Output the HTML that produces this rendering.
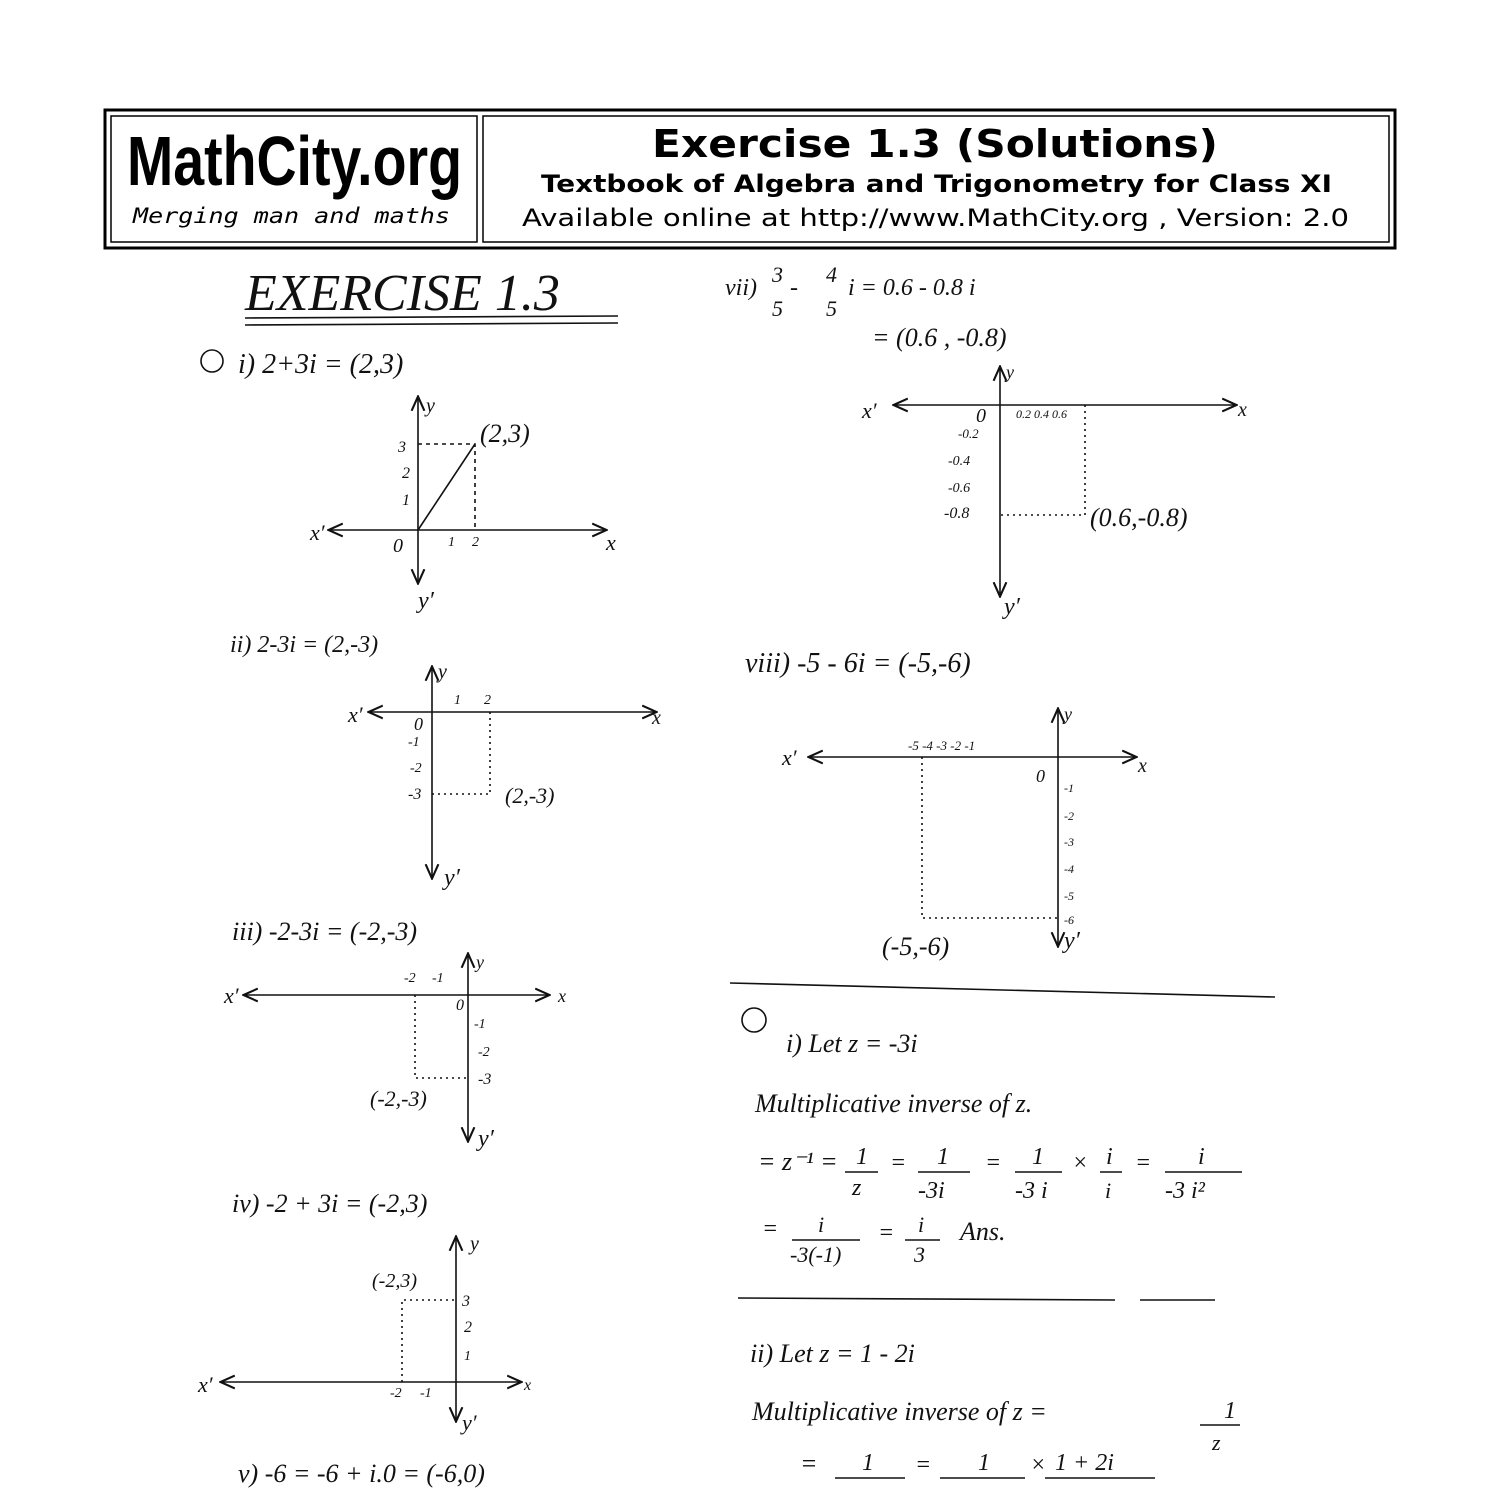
<!DOCTYPE html>
<html><head><meta charset="utf-8"><style>
html,body{margin:0;padding:0;background:#fff;}
svg{display:block}
.h{font-family:"Liberation Serif",serif;font-style:italic;fill:#111}
</style></head><body>
<svg width="1500" height="1500" viewBox="0 0 1500 1500" xmlns="http://www.w3.org/2000/svg">
<defs><marker id="a" markerWidth="10" markerHeight="10" refX="8" refY="5" orient="auto"><path d="M0,1 L9,5 L0,9" fill="none" stroke="#111" stroke-width="1.3"/></marker></defs>
<!-- header -->
<rect x="105" y="110" width="1290" height="138" fill="none" stroke="#000" stroke-width="3"/>
<rect x="111" y="116" width="366" height="126" fill="none" stroke="#000" stroke-width="1.5"/>
<rect x="483" y="116" width="906" height="126" fill="none" stroke="#000" stroke-width="1.5"/>
<text x="127" y="185" font-family="Liberation Sans Narrow,Liberation Sans,sans-serif" font-weight="bold" font-size="70" textLength="335" lengthAdjust="spacingAndGlyphs">MathCity.org</text>
<text x="133" y="223" font-family="DejaVu Sans Mono,Liberation Mono,monospace" font-style="italic" font-size="21" textLength="317" lengthAdjust="spacingAndGlyphs">Merging man and maths</text>
<text x="652" y="157" font-family="DejaVu Sans,sans-serif" font-weight="bold" font-size="38" textLength="566" lengthAdjust="spacingAndGlyphs">Exercise 1.3 (Solutions)</text>
<text x="541" y="192" font-family="DejaVu Sans,sans-serif" font-weight="bold" font-size="24" textLength="791" lengthAdjust="spacingAndGlyphs">Textbook of Algebra and Trigonometry for Class XI</text>
<text x="522" y="226" font-family="DejaVu Sans,sans-serif" font-size="24" textLength="827" lengthAdjust="spacingAndGlyphs">Available online at http://www.MathCity.org ,  Version: 2.0</text>
<g stroke="#111" stroke-width="1.6" fill="none">
<line x1="245" y1="318" x2="618" y2="316"/><line x1="245" y1="325" x2="618" y2="323"/>
<line x1="418" y1="530" x2="330" y2="530" marker-end="url(#a)"/><line x1="418" y1="530" x2="605" y2="530" marker-end="url(#a)"/>
<line x1="418" y1="530" x2="418" y2="398" marker-end="url(#a)"/><line x1="418" y1="530" x2="418" y2="582" marker-end="url(#a)"/>
<path d="M418,444 H475 V530" stroke-dasharray="4,4"/><line x1="418" y1="530" x2="475" y2="444"/>
<line x1="432" y1="712" x2="370" y2="712" marker-end="url(#a)"/><line x1="432" y1="712" x2="655" y2="712" marker-end="url(#a)"/>
<line x1="432" y1="712" x2="432" y2="668" marker-end="url(#a)"/><line x1="432" y1="712" x2="432" y2="877" marker-end="url(#a)"/>
<path d="M490,712 V794 H432" stroke-dasharray="2,4"/>
<line x1="468" y1="995" x2="245" y2="995" marker-end="url(#a)"/><line x1="468" y1="995" x2="548" y2="995" marker-end="url(#a)"/>
<line x1="468" y1="995" x2="468" y2="955" marker-end="url(#a)"/><line x1="468" y1="995" x2="468" y2="1140" marker-end="url(#a)"/>
<path d="M415,995 V1078 H468" stroke-dasharray="2,4"/>
<line x1="456" y1="1382" x2="222" y2="1382" marker-end="url(#a)"/><line x1="456" y1="1382" x2="520" y2="1382" marker-end="url(#a)"/>
<line x1="456" y1="1382" x2="456" y2="1238" marker-end="url(#a)"/><line x1="456" y1="1382" x2="456" y2="1420" marker-end="url(#a)"/>
<path d="M402,1382 V1300 H456" stroke-dasharray="2,4"/>
<line x1="1000" y1="405" x2="895" y2="405" marker-end="url(#a)"/><line x1="1000" y1="405" x2="1235" y2="405" marker-end="url(#a)"/>
<line x1="1000" y1="405" x2="1000" y2="368" marker-end="url(#a)"/><line x1="1000" y1="405" x2="1000" y2="595" marker-end="url(#a)"/>
<path d="M1085,405 V515 H1000" stroke-dasharray="2,4"/>
<line x1="1058" y1="757" x2="810" y2="757" marker-end="url(#a)"/><line x1="1058" y1="757" x2="1135" y2="757" marker-end="url(#a)"/>
<line x1="1058" y1="757" x2="1058" y2="710" marker-end="url(#a)"/><line x1="1058" y1="757" x2="1058" y2="945" marker-end="url(#a)"/>
<path d="M922,757 V918 H1058" stroke-dasharray="2,4"/>
<line x1="730" y1="983" x2="1275" y2="997"/>
<line x1="738" y1="1298" x2="1115" y2="1300"/><line x1="1140" y1="1300" x2="1215" y2="1300"/>
<line x1="845" y1="1172" x2="878" y2="1172"/><line x1="918" y1="1172" x2="970" y2="1172"/><line x1="1015" y1="1172" x2="1062" y2="1172"/><line x1="1100" y1="1172" x2="1122" y2="1172"/><line x1="1165" y1="1172" x2="1242" y2="1172"/>
<line x1="792" y1="1240" x2="860" y2="1240"/><line x1="905" y1="1240" x2="940" y2="1240"/>
<line x1="835" y1="1478" x2="905" y2="1478"/><line x1="940" y1="1478" x2="1025" y2="1478"/><line x1="1045" y1="1478" x2="1155" y2="1478"/><line x1="1200" y1="1425" x2="1240" y2="1425"/>
<circle cx="212" cy="361" r="11"/><circle cx="754" cy="1020" r="12"/>
</g>
<g class="h">
<text x="245" y="310" font-size="52">EXERCISE 1.3</text>
<text x="238" y="373" font-size="28">i)   2+3i = (2,3)</text>
<text x="426" y="412" font-size="20">y</text><text x="398" y="452" font-size="16">3</text><text x="402" y="478" font-size="16">2</text><text x="402" y="505" font-size="16">1</text>
<text x="480" y="442" font-size="26">(2,3)</text><text x="310" y="540" font-size="22">x′</text><text x="393" y="552" font-size="20">0</text><text x="448" y="546" font-size="14">1</text><text x="472" y="546" font-size="14">2</text><text x="606" y="550" font-size="22">x</text><text x="418" y="608" font-size="24">y′</text>
<text x="230" y="652" font-size="24">ii)  2-3i = (2,-3)</text>
<text x="438" y="678" font-size="20">y</text><text x="348" y="722" font-size="22">x′</text><text x="454" y="704" font-size="14">1</text><text x="484" y="704" font-size="14">2</text><text x="414" y="730" font-size="18">0</text><text x="408" y="746" font-size="14">-1</text><text x="410" y="772" font-size="14">-2</text><text x="408" y="799" font-size="16">-3</text><text x="652" y="724" font-size="20">x</text>
<text x="505" y="803" font-size="22">(2,-3)</text><text x="444" y="885" font-size="24">y′</text>
<text x="232" y="940" font-size="26">iii) -2-3i = (-2,-3)</text>
<text x="476" y="968" font-size="18">y</text><text x="224" y="1003" font-size="22">x′</text><text x="404" y="982" font-size="14">-2</text><text x="432" y="982" font-size="14">-1</text><text x="456" y="1010" font-size="16">0</text><text x="558" y="1002" font-size="18">x</text>
<text x="474" y="1028" font-size="14">-1</text><text x="478" y="1056" font-size="14">-2</text><text x="478" y="1084" font-size="16">-3</text><text x="370" y="1106" font-size="22">(-2,-3)</text><text x="478" y="1146" font-size="24">y′</text>
<text x="232" y="1212" font-size="26">iv) -2 + 3i = (-2,3)</text>
<text x="470" y="1250" font-size="20">y</text><text x="372" y="1287" font-size="20">(-2,3)</text><text x="462" y="1306" font-size="16">3</text><text x="464" y="1332" font-size="16">2</text><text x="464" y="1360" font-size="14">1</text>
<text x="198" y="1392" font-size="22">x′</text><text x="390" y="1397" font-size="14">-2</text><text x="420" y="1397" font-size="14">-1</text><text x="524" y="1390" font-size="16">x</text><text x="462" y="1430" font-size="22">y′</text>
<text x="238" y="1482" font-size="26">v) -6 = -6 + i.0 = (-6,0)</text>
<text x="725" y="295" font-size="24">vii)</text><text x="772" y="282" font-size="22">3</text><text x="772" y="316" font-size="22">5</text><text x="790" y="295" font-size="24">-</text><text x="826" y="282" font-size="22">4</text><text x="826" y="316" font-size="22">5</text><text x="848" y="295" font-size="24">i =  0.6 - 0.8 i</text>
<text x="872" y="346" font-size="26">= (0.6 , -0.8)</text>
<text x="1006" y="378" font-size="18">y</text><text x="862" y="418" font-size="22">x′</text><text x="976" y="422" font-size="20">0</text><text x="1016" y="418" font-size="12">0.2 0.4 0.6</text><text x="1238" y="416" font-size="20">x</text>
<text x="958" y="438" font-size="13">-0.2</text><text x="948" y="465" font-size="14">-0.4</text><text x="948" y="492" font-size="14">-0.6</text><text x="944" y="518" font-size="16">-0.8</text>
<text x="1090" y="526" font-size="26">(0.6,-0.8)</text><text x="1004" y="614" font-size="24">y′</text>
<text x="745" y="672" font-size="28">viii)  -5 - 6i = (-5,-6)</text>
<text x="1064" y="720" font-size="18">y</text><text x="782" y="765" font-size="22">x′</text><text x="908" y="750" font-size="13">-5 -4 -3 -2 -1</text><text x="1036" y="782" font-size="18">0</text><text x="1138" y="772" font-size="20">x</text>
<text x="1064" y="792" font-size="12">-1</text><text x="1064" y="820" font-size="12">-2</text><text x="1064" y="846" font-size="12">-3</text><text x="1064" y="873" font-size="12">-4</text><text x="1064" y="900" font-size="12">-5</text><text x="1064" y="924" font-size="12">-6</text>
<text x="882" y="955" font-size="26">(-5,-6)</text><text x="1064" y="948" font-size="24">y′</text>
<text x="786" y="1052" font-size="26">i)  Let   z = -3i</text>
<text x="755" y="1112" font-size="26">Multiplicative inverse of z.</text>
<text x="758" y="1170" font-size="26">= z⁻¹ =</text>
<text x="856" y="1164" font-size="24">1</text><text x="890" y="1170" font-size="24">=</text><text x="937" y="1164" font-size="24">1</text><text x="985" y="1170" font-size="24">=</text><text x="1032" y="1164" font-size="24">1</text><text x="1072" y="1170" font-size="24">×</text><text x="1106" y="1164" font-size="24">i</text><text x="1135" y="1170" font-size="24">=</text><text x="1198" y="1164" font-size="24">i</text>
<text x="852" y="1195" font-size="24">z</text><text x="918" y="1198" font-size="24">-3i</text><text x="1015" y="1198" font-size="24">-3 i</text><text x="1105" y="1198" font-size="22">i</text><text x="1165" y="1198" font-size="24">-3 i²</text>
<text x="762" y="1236" font-size="24">=</text><text x="818" y="1232" font-size="22">i</text><text x="918" y="1232" font-size="22">i</text><text x="878" y="1240" font-size="24">=</text><text x="960" y="1240" font-size="26">Ans.</text>
<text x="790" y="1262" font-size="22">-3(-1)</text><text x="914" y="1262" font-size="22">3</text>
<text x="750" y="1362" font-size="26">ii)  Let  z = 1 - 2i</text>
<text x="752" y="1420" font-size="26">Multiplicative inverse of z =</text><text x="1224" y="1418" font-size="24">1</text><text x="1212" y="1450" font-size="22">z</text>
<text x="800" y="1472" font-size="26">=</text><text x="862" y="1470" font-size="24">1</text><text x="915" y="1472" font-size="24">=</text><text x="978" y="1470" font-size="24">1</text><text x="1030" y="1472" font-size="24">×</text><text x="1055" y="1470" font-size="24">1 + 2i</text>
</g>
</svg>
</body></html>
